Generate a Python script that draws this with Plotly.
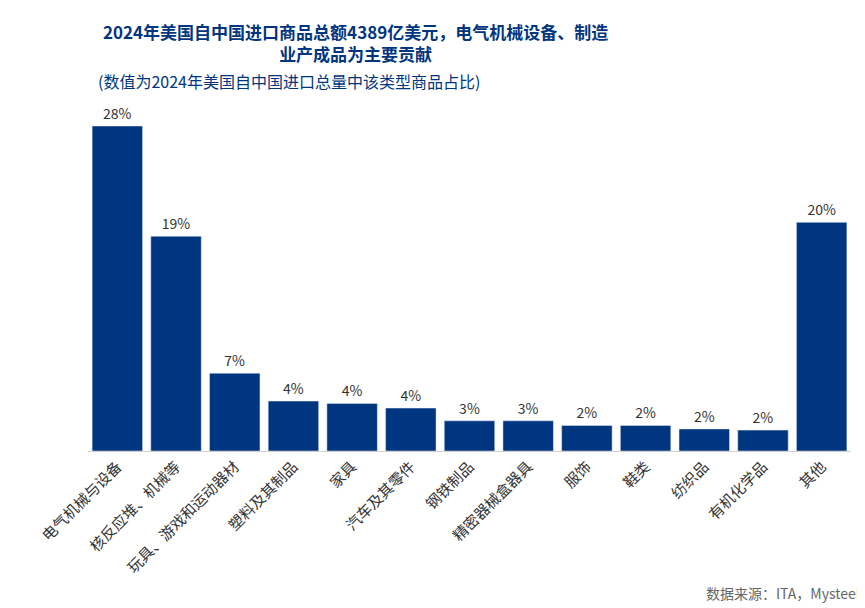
import plotly.graph_objects as go

categories = ["电气机械与设备", "核反应堆、机械等", "玩具、游戏和运动器材", "塑料及其制品", "家具",
              "汽车及其零件", "钢铁制品", "精密器械盒器具", "服饰", "鞋类", "纺织品", "有机化学品", "其他"]
shares = [28.0, 18.5, 6.7, 4.3, 4.1, 3.7, 2.6, 2.6, 2.2, 2.2, 1.9, 1.8, 19.7]

font = "Noto Sans CJK SC"
navy = "#003580"

fig = go.Figure(go.Bar(
    x=categories, y=shares,
    marker_color=navy, width=0.86,
    texttemplate="%{y:.0f}%", textposition="outside",
    textfont=dict(size=14, color="#333333", family=font),
    cliponaxis=False,
))

fig.update_layout(
    width=865, height=608,
    paper_bgcolor="white", plot_bgcolor="white",
    margin=dict(l=80, r=22, t=118, b=165, autoexpand=False),
    showlegend=False,
    font=dict(family=font),
    xaxis=dict(showline=True, linecolor="#d0d0d0", linewidth=1, ticks="", automargin=False,
               tickangle=-45, tickfont=dict(size=15, color="#333333", family=font)),
    yaxis=dict(range=[0, 28], visible=False, showgrid=False, automargin=False),
    annotations=[
        dict(text="<b>2024年美国自中国进口商品总额4389亿美元，电气机械设备、制造<br>业产成品为主要贡献</b>",
             x=0.35, y=1.335, xref="paper", yref="paper", xanchor="center", yanchor="top",
             showarrow=False, font=dict(size=17, color=navy, family=font)),
        dict(text="(数值为2024年美国自中国进口总量中该类型商品占比)",
             x=0.01, y=1.095, xref="paper", yref="paper", xanchor="left", yanchor="bottom",
             showarrow=False, font=dict(size=16, color=navy, family=font)),
        dict(text="数据来源：ITA，Mysteel", x=1.015, y=-0.4, xref="paper", yref="paper",
             xanchor="right", yanchor="top", showarrow=False,
             font=dict(size=14, color="#666666", family=font)),
    ],
)

fig.write_html("out.html")
